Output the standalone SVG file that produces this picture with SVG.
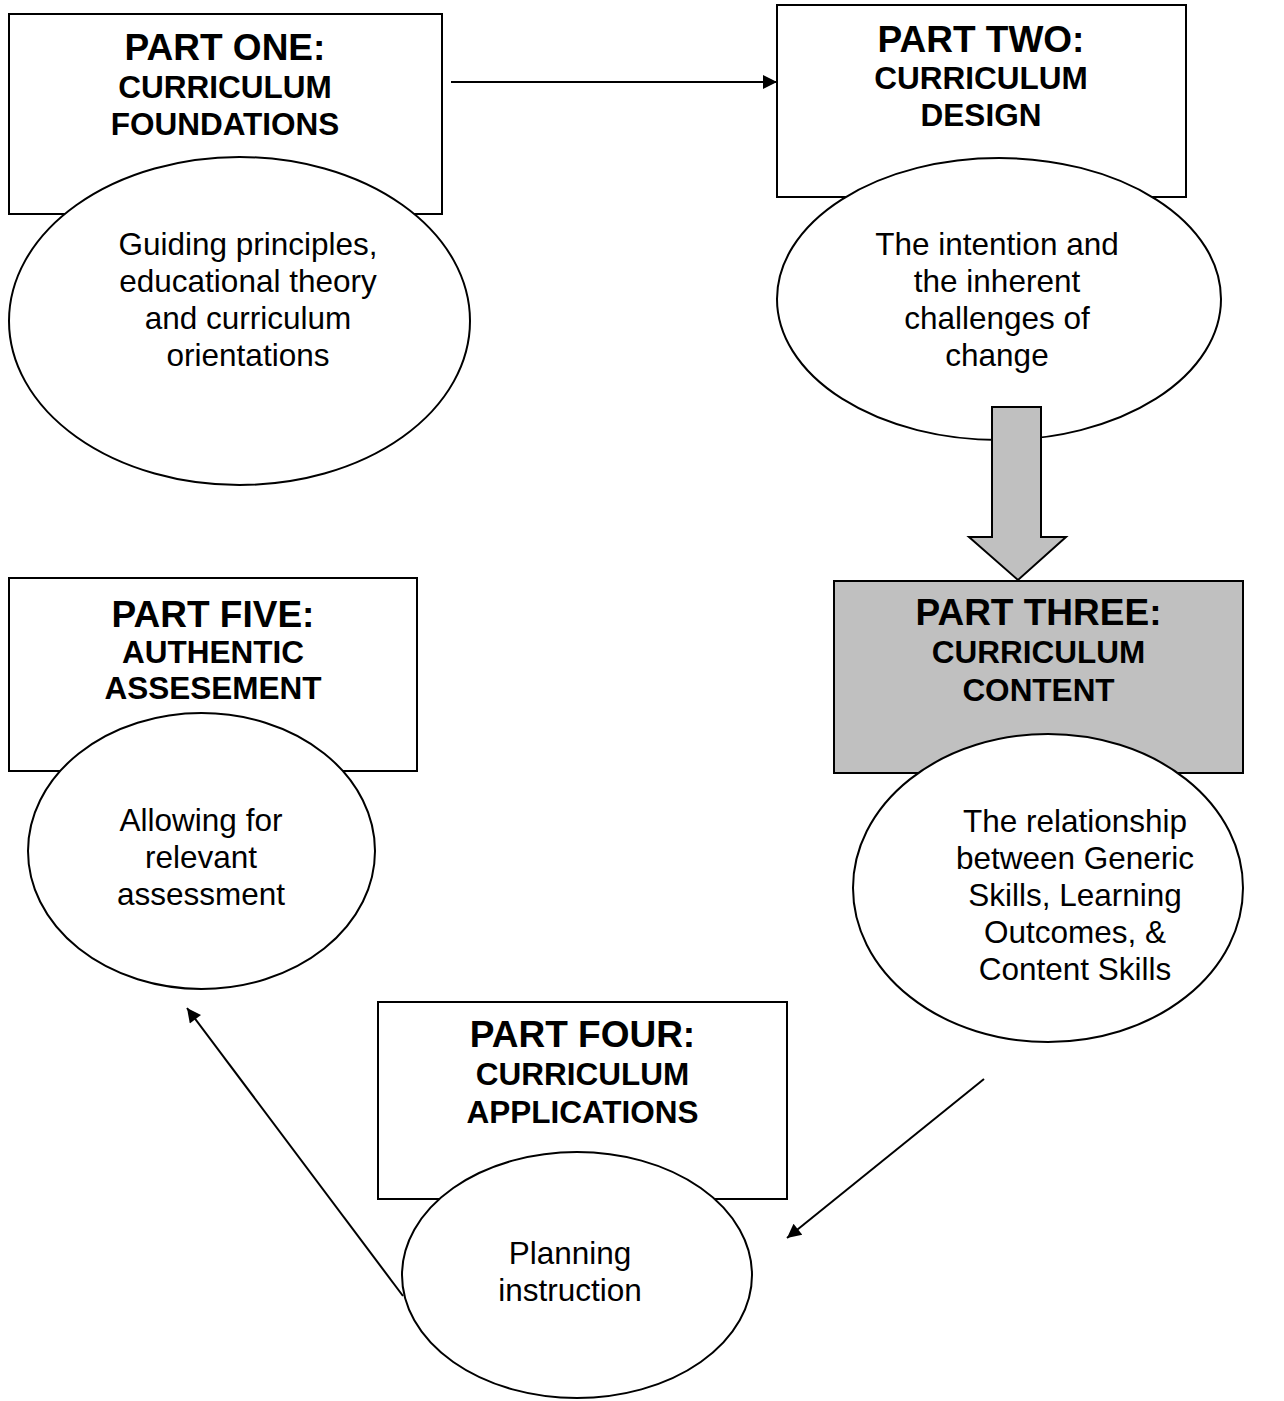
<svg xmlns="http://www.w3.org/2000/svg" width="1284" height="1401" viewBox="0 0 1284 1401">
  <style>
    .box { fill: #ffffff; stroke: #000000; stroke-width: 2; }
    .box.shaded { fill: #c0c0c0; }
    .oval { fill: #ffffff; stroke: #000000; stroke-width: 2; }
    .head { font-family: "Liberation Sans", Arial, sans-serif; font-weight: bold; font-size: 37px; text-anchor: middle; fill: #000000; }
    .sub { font-family: "Liberation Sans", Arial, sans-serif; font-weight: bold; font-size: 31.5px; text-anchor: middle; fill: #000000; }
    .body { font-family: "Liberation Sans", Arial, sans-serif; font-size: 31.5px; text-anchor: middle; fill: #000000; }
    .link { stroke: #000000; stroke-width: 2; fill: none; marker-end: url(#tip); }
  </style>
  <defs>
    <marker id="tip" viewBox="0 0 10 10" refX="10" refY="5" markerWidth="8" markerHeight="7" markerUnits="strokeWidth" orient="auto">
      <path d="M0,0 L10,5 L0,10 z" fill="#000000"/>
    </marker>
  </defs>

  <rect width="1284" height="1401" fill="#ffffff"/>

  <!-- Part one -->
  <g id="part-one">
    <rect class="box" x="9" y="14" width="433" height="200"/>
    <text class="head" x="225" y="60">PART ONE:</text>
    <text class="sub" x="225" y="98">CURRICULUM</text>
    <text class="sub" x="225" y="135">FOUNDATIONS</text>
    <ellipse class="oval" cx="239.5" cy="321" rx="230.5" ry="164"/>
    <text class="body" x="248" y="255">Guiding principles,</text>
    <text class="body" x="248" y="292">educational theory</text>
    <text class="body" x="248" y="329">and curriculum</text>
    <text class="body" x="248" y="366">orientations</text>
  </g>

  <!-- Part two -->
  <g id="part-two">
    <rect class="box" x="777" y="5" width="409" height="192"/>
    <text class="head" x="981" y="52">PART TWO:</text>
    <text class="sub" x="981" y="89">CURRICULUM</text>
    <text class="sub" x="981" y="126">DESIGN</text>
    <ellipse class="oval" cx="999" cy="299" rx="222" ry="141"/>
    <text class="body" x="997" y="255">The intention and</text>
    <text class="body" x="997" y="292">the inherent</text>
    <text class="body" x="997" y="329">challenges of</text>
    <text class="body" x="997" y="366">change</text>
  </g>

  <!-- Part three -->
  <g id="part-three">
    <rect class="box shaded" x="834" y="581" width="409" height="192"/>
    <text class="head" x="1038.5" y="625">PART THREE:</text>
    <text class="sub" x="1038.5" y="663">CURRICULUM</text>
    <text class="sub" x="1038.5" y="701">CONTENT</text>
    <ellipse class="oval" cx="1048" cy="888" rx="195" ry="154"/>
    <text class="body" x="1075" y="832">The relationship</text>
    <text class="body" x="1075" y="869">between Generic</text>
    <text class="body" x="1075" y="906">Skills, Learning</text>
    <text class="body" x="1075" y="943">Outcomes, &amp;</text>
    <text class="body" x="1075" y="980">Content Skills</text>
  </g>

  <!-- Part four -->
  <g id="part-four">
    <rect class="box" x="378" y="1002" width="409" height="197"/>
    <text class="head" x="582.5" y="1047">PART FOUR:</text>
    <text class="sub" x="582.5" y="1085">CURRICULUM</text>
    <text class="sub" x="582.5" y="1123">APPLICATIONS</text>
    <ellipse class="oval" cx="577" cy="1275" rx="175" ry="123"/>
    <text class="body" x="570" y="1264">Planning</text>
    <text class="body" x="570" y="1301">instruction</text>
  </g>

  <!-- Part five -->
  <g id="part-five">
    <rect class="box" x="9" y="578" width="408" height="193"/>
    <text class="head" x="213" y="627">PART FIVE:</text>
    <text class="sub" x="213" y="663">AUTHENTIC</text>
    <text class="sub" x="213" y="699">ASSESEMENT</text>
    <ellipse class="oval" cx="201.5" cy="851" rx="173.5" ry="138"/>
    <text class="body" x="201" y="831">Allowing for</text>
    <text class="body" x="201" y="868">relevant</text>
    <text class="body" x="201" y="905">assessment</text>
  </g>

  <!-- Connectors -->
  <g id="connectors">
    <line class="link" x1="451" y1="82" x2="777" y2="82"/>
    <polygon points="992,407 1041,407 1041,537 1066,537 1018,580 969,537 992,537" fill="#c0c0c0" stroke="#000000" stroke-width="2" stroke-linejoin="miter"/>
    <line class="link" x1="984" y1="1079" x2="787" y2="1238"/>
    <line class="link" x1="403" y1="1296" x2="187" y2="1008"/>
  </g>
</svg>
